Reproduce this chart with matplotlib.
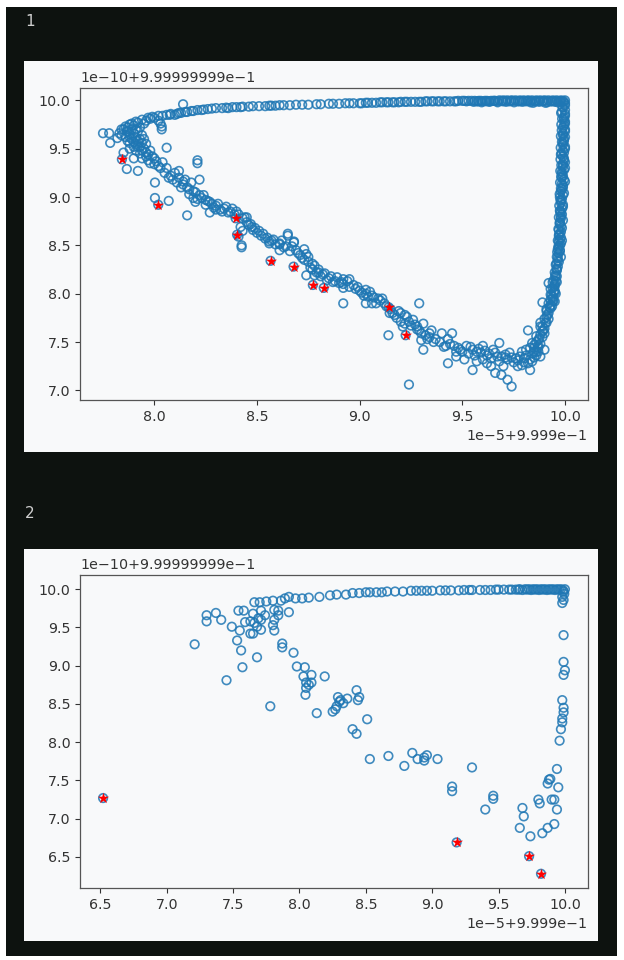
#!/usr/bin/env python3
"""
Two scatter panels (notebook-style dark frame) of near-1.0 score pairs,
with selected points marked by red stars.
"""

import matplotlib
matplotlib.use("Agg")
import matplotlib.pyplot as plt
from matplotlib.patches import Rectangle

W, H = 624, 960
DARK = "#0d120f"
PANEL = "#f8f9fa"
BLUE = "#1f77b4"
TEXT = "#333333"

# values are in the axis offset units:
#   x = 0.9999 + v * 1e-5,   y = 0.999999999 + v * 1e-10
X_OFFSET = "1e\u22125+9.999e\u22121"
Y_OFFSET = "1e\u221210+9.99999999e\u22121"

# ---- panel 1 -------------------------------------------------------------
p1_top_x = [7.88, 7.91, 7.94, 7.97, 7.99, 8.02, 8.06, 8.075, 8.11, 8.13, 8.16, 8.18,
            8.21, 8.24, 8.26, 8.30, 8.33, 8.35, 8.38, 8.40, 8.43, 8.46, 8.51, 8.54,
            8.56, 8.59, 8.63, 8.69, 8.72, 8.79, 8.85, 8.90, 8.93, 8.97, 9.00, 9.03,
            9.06, 9.08, 9.10, 9.13, 9.16, 9.19, 9.22, 9.25, 9.27, 9.30, 9.33, 9.36,
            9.38, 9.41, 9.44, 9.47, 9.50, 9.53, 9.56, 9.59, 9.62, 9.64, 9.66, 9.68,
            9.70, 9.72, 9.74, 9.76, 9.78, 9.80, 9.82, 9.84, 9.86, 9.88, 9.90, 9.92,
            9.94, 9.96, 9.98, 10.0, 8.14]
p1_top_y = [9.75, 9.78, 9.80, 9.82, 9.83, 9.84, 9.85, 9.85, 9.86, 9.87, 9.88, 9.89,
            9.90, 9.905, 9.91, 9.92, 9.92, 9.925, 9.93, 9.93, 9.935, 9.935, 9.94, 9.94,
            9.945, 9.945, 9.95, 9.955, 9.955, 9.96, 9.965, 9.965, 9.97, 9.97, 9.97, 9.975,
            9.975, 9.975, 9.98, 9.98, 9.98, 9.98, 9.985, 9.985, 9.985, 9.985, 9.99, 9.99,
            9.99, 9.99, 9.99, 9.99, 9.995, 9.995, 9.995, 9.995, 9.995, 9.995, 9.995, 10.0,
            10.0, 10.0, 10.0, 10.0, 10.0, 10.0, 10.0, 10.0, 10.0, 10.0, 10.0, 10.0,
            10.0, 10.0, 10.0, 10.0, 9.96]

# extra points along the upper row (dense part)
p1_row_x = [7.96, 7.98, 8.00, 8.02, 8.04, 8.08, 8.10, 8.12, 8.15, 8.19, 8.23, 8.28,
            8.36, 8.42, 8.48, 8.57, 8.61, 8.66, 8.75, 8.81, 8.87, 8.95, 9.01, 9.04,
            9.11, 9.14, 9.17, 9.20, 9.23, 9.29, 9.32, 9.35, 9.39, 9.42, 9.46, 9.48,
            9.51, 9.52, 9.545, 9.57, 9.58, 9.60, 9.61, 9.63, 9.65, 9.67, 9.69, 9.71,
            9.73, 9.75, 9.77, 9.79, 9.81, 9.83, 9.85, 9.87, 9.89, 9.91, 9.93, 9.95,
            9.97, 9.99,
            9.555, 9.577, 9.594, 9.617, 9.633, 9.656, 9.672, 9.697, 9.713, 9.738, 9.752,
            9.779, 9.793, 9.818, 9.832, 9.857, 9.874, 9.896, 9.913, 9.937, 9.952, 9.976,
            9.994, 9.845, 9.905, 9.965]
p1_row_y = [9.79, 9.81, 9.82, 9.79, 9.84, 9.86, 9.85, 9.87, 9.88, 9.89, 9.90, 9.915,
            9.92, 9.93, 9.94, 9.945, 9.95, 9.95, 9.955, 9.96, 9.965, 9.97, 9.97, 9.975,
            9.98, 9.98, 9.98, 9.985, 9.985, 9.985, 9.99, 9.99, 9.99, 9.99, 9.99, 9.995,
            9.995, 9.99, 9.995, 9.99, 9.995, 9.99, 9.995, 9.99, 9.995, 9.99, 9.995, 9.995,
            9.99, 9.995, 9.99, 9.995, 9.99, 9.995, 9.99, 9.995, 9.99, 9.995, 9.99, 9.995,
            9.99, 9.995,
            9.985, 9.99, 9.98, 9.99, 9.985, 9.995, 9.98, 9.99, 9.985, 9.995, 9.98,
            9.99, 9.985, 9.995, 9.98, 9.99, 9.985, 9.995, 9.98, 9.99, 9.985, 9.99,
            9.985, 9.975, 9.975, 9.98]

p1_right_x = [10.0, 10.0, 10.0, 9.995, 10.0, 9.995, 10.0, 9.99, 10.0, 9.995, 9.99, 10.0,
              9.995, 9.99, 9.995, 9.99, 10.0, 9.985, 9.99, 9.995, 9.985, 9.99, 9.98, 9.99,
              9.985, 9.98, 9.99, 9.975, 9.985, 9.98, 9.975, 9.98, 9.97, 9.975, 9.98, 9.97,
              9.975, 9.965, 9.97, 9.96, 9.965, 9.955, 9.96, 9.95, 9.955, 9.945, 9.95, 9.94,
              9.945, 9.935, 9.93, 9.92, 9.925, 9.91, 9.915, 9.90, 9.905, 9.89, 9.895, 9.88,
              9.875, 9.86, 9.87, 9.85, 9.86, 9.84, 9.85, 9.83, 9.82,
              9.985, 9.99, 9.98, 9.985, 9.975, 9.98, 9.97, 9.975, 9.965, 9.96, 9.955, 9.95]
p1_right_y = [9.95, 9.90, 9.86, 9.82, 9.78, 9.74, 9.70, 9.66, 9.62, 9.58, 9.54, 9.50,
              9.46, 9.42, 9.38, 9.34, 9.30, 9.26, 9.22, 9.18, 9.14, 9.10, 9.06, 9.02,
              8.98, 8.94, 8.90, 8.86, 8.82, 8.78, 8.74, 8.70, 8.66, 8.62, 8.58, 8.54,
              8.50, 8.46, 8.42, 8.38, 8.34, 8.30, 8.26, 8.22, 8.18, 8.14, 8.10, 8.06,
              8.02, 7.98, 7.94, 7.90, 7.86, 7.82, 7.78, 7.74, 7.70, 7.66, 7.62, 7.58,
              7.54, 7.50, 7.46, 7.44, 7.40, 7.38, 7.34, 7.32, 7.28,
              9.88, 9.64, 9.44, 9.20, 9.00, 8.80, 8.60, 8.44, 8.28, 8.12, 8.00, 7.92]

# second and third columns of the right edge (solid band in the picture)
p1_edge_x = [10.0, 9.99, 10.0, 9.995, 10.0, 9.99, 10.0, 9.995, 9.99, 10.0, 9.99, 9.995,
             10.0, 9.99, 9.995, 9.985, 10.0, 9.99, 9.985, 9.995, 9.98, 9.99, 9.985, 9.98,
             9.99, 9.975, 9.985, 9.98, 9.975, 9.98, 9.97,
             9.983, 9.987, 9.981, 9.986, 9.982, 9.984, 9.98, 9.985, 9.979, 9.983, 9.978,
             9.982, 9.977, 9.981, 9.976, 9.98, 9.974, 9.978, 9.972, 9.976, 9.97, 9.974,
             9.968, 9.971, 9.965, 9.968, 9.962, 9.965, 9.958, 9.96, 9.952, 9.955, 9.947,
             9.95, 9.942, 9.944, 9.937]
p1_edge_y = [9.97, 9.93, 9.84, 9.80, 9.76, 9.72, 9.68, 9.60, 9.56, 9.52, 9.48, 9.40,
             9.36, 9.32, 9.28, 9.24, 9.16, 9.12, 9.08, 9.04, 8.96, 8.92, 8.88, 8.84,
             8.76, 8.72, 8.68, 8.64, 8.56, 8.52, 8.48,
             9.985, 9.93, 9.87, 9.81, 9.75, 9.69, 9.63, 9.57, 9.51, 9.45, 9.39,
             9.33, 9.27, 9.21, 9.15, 9.09, 9.03, 8.97, 8.91, 8.85, 8.79, 8.73,
             8.67, 8.61, 8.55, 8.49, 8.43, 8.37, 8.31, 8.25, 8.19, 8.13, 8.07,
             8.03, 7.97, 7.93, 7.87]

p1_curve_x = [7.75, 7.78, 7.785, 7.82, 7.84, 7.85, 7.866, 7.87, 7.86, 7.87, 7.88, 7.89,
              7.90, 7.89, 7.90, 7.91, 7.92, 7.91, 7.93, 7.92, 7.94, 7.93, 7.95, 7.94,
              7.96, 7.85, 7.88, 7.90, 7.93, 7.97, 7.98, 7.96, 8.00, 8.02, 8.04, 7.866,
              7.92, 8.036, 8.036, 8.06, 8.003, 8.06, 8.08, 8.10, 8.12, 8.12, 8.14, 8.16,
              8.17, 8.15, 8.18, 8.22, 8.21, 8.003, 8.07, 8.16, 8.19, 8.20, 8.23, 8.20,
              8.24, 8.26, 8.25, 8.28, 8.30, 8.30, 8.27, 8.32, 8.33, 8.35, 8.37, 8.38,
              8.41, 8.44, 8.45, 8.46, 8.42, 8.43, 8.41, 8.425, 8.425, 8.475, 8.50, 8.48,
              8.52, 8.55, 8.56, 8.56, 8.58, 8.61, 8.61, 8.61, 8.64, 8.65, 8.65, 8.68,
              8.68, 8.66, 8.70, 8.73, 8.74, 8.73, 8.75, 8.77, 8.76, 8.74, 8.77, 8.80,
              8.78, 8.79, 8.82, 8.85, 8.89, 8.87, 8.90, 8.92, 8.94, 8.95, 8.92, 8.92,
              8.95, 8.99, 9.00, 9.03, 9.02, 9.03, 9.06, 9.08, 9.07, 9.10, 9.11, 9.06,
              8.92, 9.03, 9.146, 9.16, 9.19, 9.20, 9.22, 9.23, 9.26, 9.25, 9.21, 9.28,
              9.28, 9.30, 9.29, 9.31, 9.33, 9.34, 9.35, 9.36, 9.14, 9.31, 9.24, 9.37,
              9.40, 9.43, 9.45, 9.42, 9.46, 9.49, 9.52, 9.55, 9.51, 9.55, 9.43, 9.59,
              9.60, 9.68, 9.66, 9.69, 9.72, 9.70, 9.73, 9.75, 9.66, 9.69, 9.72, 9.74,
              9.78, 9.80, 9.83, 9.77, 9.81, 9.82, 9.84, 9.87, 9.90, 9.88, 9.90, 9.89,
              9.92, 9.93, 9.95, 9.96, 9.98, 9.985, 9.62, 9.64, 9.57, 9.53, 9.47, 9.62,
              9.76, 9.79, 9.81, 9.83, 9.85, 9.86, 9.88, 9.91, 9.92, 9.94, 9.93, 8.03,
              8.21]
p1_curve_y = [9.66, 9.66, 9.56, 9.61, 9.64, 9.70, 9.68, 9.72, 9.62, 9.58, 9.65, 9.70,
              9.74, 9.60, 9.66, 9.62, 9.68, 9.55, 9.72, 9.58, 9.64, 9.52, 9.60, 9.48,
              9.55, 9.46, 9.50, 9.40, 9.45, 9.38, 9.35, 9.42, 9.40, 9.32, 9.36, 9.29,
              9.27, 9.73, 9.70, 9.51, 9.15, 9.30, 9.22, 9.25, 9.27, 9.20, 9.13, 9.10,
              9.08, 9.18, 9.15, 9.18, 9.35, 8.99, 8.96, 8.81, 8.99, 8.95, 8.99, 9.05,
              9.02, 8.96, 8.92, 8.93, 8.87, 8.91, 8.84, 8.87, 8.85, 8.90, 8.85, 8.88,
              8.82, 8.79, 8.79, 8.71, 8.69, 8.65, 8.59, 8.50, 8.48, 8.69, 8.63, 8.66,
              8.60, 8.58, 8.54, 8.52, 8.56, 8.51, 8.52, 8.45, 8.49, 8.60, 8.62, 8.53,
              8.54, 8.44, 8.42, 8.46, 8.41, 8.35, 8.38, 8.31, 8.27, 8.19, 8.25, 8.25,
              8.19, 8.22, 8.20, 8.16, 8.17, 8.12, 8.11, 8.15, 8.13, 8.15, 8.10, 8.06,
              8.07, 8.07, 8.03, 8.04, 7.98, 8.00, 7.98, 7.90, 7.96, 7.93, 7.95, 7.90,
              7.90, 7.90, 7.80, 7.80, 7.82, 7.80, 7.78, 7.76, 7.73, 7.67, 7.66, 7.66,
              7.63, 7.59, 7.90, 7.69, 7.53, 7.59, 7.62, 7.50, 7.57, 7.42, 7.06, 7.53,
              7.59, 7.53, 7.59, 7.46, 7.46, 7.42, 7.46, 7.42, 7.32, 7.21, 7.28, 7.39,
              7.46, 7.49, 7.39, 7.35, 7.32, 7.25, 7.39, 7.29, 7.18, 7.16, 7.11, 7.04,
              7.35, 7.29, 7.21, 7.25, 7.42, 7.62, 7.49, 7.52, 7.42, 7.66, 7.59, 7.91,
              8.11, 7.85, 8.01, 8.18, 8.38, 8.55, 7.36, 7.33, 7.40, 7.38, 7.40, 7.28,
              7.33, 7.40, 7.36, 7.44, 7.47, 7.56, 7.70, 7.76, 7.80, 7.95, 8.05, 9.76,
              9.38]

# extra points thickening the descending band and the trough
p1_band_x = [7.87, 7.88, 7.89, 7.90, 7.91, 7.92, 7.93, 7.94, 7.95, 7.96, 7.97, 7.98,
             7.99, 8.01, 8.00, 8.03, 7.95, 7.92, 7.86, 7.84, 7.83, 7.88, 7.90, 7.91,
             7.94, 8.05, 8.07, 8.09, 8.11, 8.13, 8.14, 8.17, 8.19, 8.21, 8.22, 8.25,
             8.27, 8.29, 8.31, 8.34, 8.36, 8.39, 8.40, 8.43, 8.45, 8.47, 8.49, 8.51,
             8.53, 8.54, 8.57, 8.59, 8.62, 8.63, 8.67, 8.69, 8.71, 8.72, 8.75, 8.78,
             8.80, 8.81, 8.83, 8.84, 8.86, 8.88, 8.91, 8.97, 8.98, 9.01, 9.04, 9.05,
             9.09, 9.12, 9.13, 9.15, 9.17, 9.18, 9.20, 9.22, 9.24, 9.27, 9.29, 9.32,
             9.34, 9.30, 9.39, 9.41, 9.44, 9.47, 9.48, 9.50, 9.54, 9.56, 9.58, 9.61,
             9.63, 9.65, 9.67, 9.68, 9.71, 9.60, 9.57, 9.64, 9.86, 9.87, 9.88, 9.89,
             9.90, 9.91, 9.92, 9.93, 9.94, 9.95, 9.88, 9.84, 9.80, 9.77, 9.74, 9.71,
             9.79, 9.85, 9.87, 9.89, 9.91, 9.93, 9.94, 9.96, 9.97, 9.975]
p1_band_y = [9.68, 9.62, 9.76, 9.57, 9.70, 9.52, 9.60, 9.56, 9.50, 9.46, 9.44, 9.48,
             9.42, 9.37, 9.34, 9.30, 9.76, 9.77, 9.73, 9.70, 9.66, 9.56, 9.52, 9.48,
             9.40, 9.25, 9.20, 9.18, 9.15, 9.10, 9.16, 9.03, 9.06, 8.98, 9.02, 8.97,
             8.95, 8.89, 8.93, 8.88, 8.84, 8.82, 8.85, 8.78, 8.74, 8.72, 8.68, 8.65,
             8.62, 8.57, 8.55, 8.51, 8.55, 8.48, 8.49, 8.45, 8.40, 8.37, 8.33, 8.29,
             8.22, 8.18, 8.21, 8.14, 8.18, 8.13, 8.12, 8.09, 8.05, 8.01, 7.97, 8.02,
             7.95, 7.90, 7.87, 7.84, 7.78, 7.75, 7.71, 7.69, 7.71, 7.68, 7.62, 7.57,
             7.55, 7.52, 7.50, 7.45, 7.48, 7.35, 7.44, 7.40, 7.45, 7.36, 7.43, 7.41,
             7.38, 7.42, 7.35, 7.30, 7.34, 7.32, 7.30, 7.25, 7.36, 7.40, 7.48, 7.55,
             7.64, 7.70, 7.74, 7.88, 7.92, 8.08, 7.35, 7.30, 7.33, 7.31, 7.34, 7.37,
             7.26, 7.40, 7.44, 7.61, 7.84, 7.99, 8.12, 8.24, 8.33, 8.45]

p1_star_x = [7.842, 8.019, 8.396, 8.403, 8.566, 8.678, 8.772, 8.825, 9.141, 9.224]
p1_star_y = [9.39, 8.92, 8.78, 8.61, 8.34, 8.28, 8.09, 8.06, 7.86, 7.57]

# ---- panel 2 -------------------------------------------------------------
p2_x = [7.21, 7.30, 7.30, 7.37, 7.41, 7.49, 7.45, 7.53, 7.56, 7.57, 7.55, 7.54,
        7.58, 7.59, 7.66, 7.70, 7.75, 7.86, 7.92, 7.97, 8.02, 8.07, 8.15, 8.23,
        8.28, 8.35, 7.65, 7.69, 7.66, 7.63, 7.71, 7.68, 7.65, 7.63, 7.71, 7.68,
        7.71, 7.74, 7.81, 7.84, 7.84, 7.81, 7.80, 7.81, 7.92, 7.87, 7.87, 7.955,
        7.98, 8.04, 8.03, 8.09, 8.19, 8.05, 8.07, 8.09, 8.045, 8.05, 7.78, 8.13,
        8.25, 8.28, 8.30, 8.33, 8.27, 8.29, 8.31, 8.36, 8.43, 8.44, 8.40, 8.43,
        8.45, 8.51, 8.53, 8.67, 8.79, 8.85, 8.89, 8.94, 8.96, 8.94, 9.04, 9.30,
        9.15, 9.15, 9.46, 9.46, 9.40, 9.68, 9.69, 9.66, 9.74, 9.80, 9.81, 9.88,
        9.89, 9.87, 9.92, 9.90, 9.94, 9.95, 9.94, 9.92, 9.87, 9.83, 9.96, 9.97,
        9.98, 9.98, 9.99, 9.99, 9.98, 9.99, 10.0, 9.99, 9.99, 9.98, 9.99, 9.98,
        8.40, 8.45, 8.50, 8.53, 8.58, 8.62, 8.66, 8.72, 8.78, 8.84, 8.88, 8.92,
        8.96, 9.00, 9.06, 9.10, 9.14, 9.20, 9.24, 9.28, 9.30, 9.36, 9.40, 9.44,
        9.48, 9.50, 9.54, 9.58, 9.60, 9.63, 9.66, 9.70, 9.73, 9.76, 9.79, 9.82,
        9.85, 9.88, 9.91, 9.94, 9.97, 10.0, 9.99, 9.995, 7.80, 7.89,
        6.52, 9.184, 9.73, 9.82,
        9.65, 9.68, 9.715, 9.745, 9.775, 9.805, 9.835, 9.865, 9.895, 9.925, 9.955, 9.985]
p2_y = [9.28, 9.66, 9.58, 9.69, 9.60, 9.51, 8.81, 9.33, 9.20, 8.98, 9.46, 9.72,
        9.72, 9.57, 9.83, 9.83, 9.84, 9.85, 9.90, 9.88, 9.88, 9.89, 9.90, 9.92,
        9.93, 9.93, 9.68, 9.62, 9.56, 9.58, 9.60, 9.51, 9.42, 9.42, 9.47, 9.11,
        9.72, 9.66, 9.73, 9.66, 9.72, 9.60, 9.53, 9.46, 9.70, 9.29, 9.24, 9.17,
        8.99, 8.98, 8.86, 8.88, 8.86, 8.78, 8.75, 8.78, 8.62, 8.71, 8.47, 8.38,
        8.40, 8.47, 8.53, 8.51, 8.43, 8.59, 8.55, 8.57, 8.68, 8.55, 8.17, 8.11,
        8.59, 8.30, 7.78, 7.82, 7.69, 7.86, 7.78, 7.80, 7.83, 7.76, 7.78, 7.67,
        7.42, 7.36, 7.30, 7.26, 7.12, 7.14, 7.03, 6.88, 6.77, 7.25, 7.20, 7.51,
        7.52, 7.46, 7.25, 7.25, 7.65, 7.41, 7.12, 6.93, 6.88, 6.81, 8.02, 8.17,
        8.26, 8.31, 8.39, 8.45, 8.55, 8.88, 8.94, 9.05, 9.40, 9.82, 9.86, 9.90,
        9.95, 9.95, 9.96, 9.96, 9.96, 9.96, 9.97, 9.97, 9.97, 9.98, 9.98, 9.98,
        9.98, 9.98, 9.985, 9.985, 9.985, 9.985, 9.99, 9.99, 9.99, 9.99, 9.99, 9.99,
        9.995, 9.995, 9.995, 9.995, 9.995, 9.995, 10.0, 10.0, 10.0, 10.0, 10.0, 10.0,
        10.0, 10.0, 10.0, 10.0, 10.0, 10.0, 9.97, 9.94, 9.85, 9.88,
        7.27, 6.69, 6.51, 6.28,
        9.995, 9.99, 9.995, 9.99, 9.995, 9.99, 9.995, 9.99, 9.995, 9.99, 9.995, 9.99]

p2_star_x = [6.52, 9.184, 9.73, 9.82]
p2_star_y = [7.27, 6.69, 6.51, 6.28]

panels = [
    {"label": "1", "label_y": 22, "box": (24, 61, 598, 452), "axes": (80, 88, 588, 400),
     "x": p1_top_x + p1_row_x + p1_right_x + p1_edge_x + p1_curve_x + p1_band_x + p1_star_x,
     "y": p1_top_y + p1_row_y + p1_right_y + p1_edge_y + p1_curve_y + p1_band_y + p1_star_y,
     "sx": p1_star_x, "sy": p1_star_y,
     "xticks": [8.0, 8.5, 9.0, 9.5, 10.0], "yticks": [7.0, 7.5, 8.0, 8.5, 9.0, 9.5, 10.0],
     "xlim": (7.638, 10.112), "ylim": (6.90, 10.128)},
    {"label": "2", "label_y": 513, "box": (24, 549, 598, 941), "axes": (80, 575, 588, 888),
     "x": p2_x, "y": p2_y, "sx": p2_star_x, "sy": p2_star_y,
     "xticks": [6.5, 7.0, 7.5, 8.0, 8.5, 9.0, 9.5, 10.0],
     "yticks": [6.5, 7.0, 7.5, 8.0, 8.5, 9.0, 9.5, 10.0],
     "xlim": (6.346, 10.174), "ylim": (6.094, 10.186)},
]


def frac(x0, y0, x1, y1):
    return [x0 / W, 1 - y1 / H, (x1 - x0) / W, (y1 - y0) / H]


fig = plt.figure(figsize=(W / 100, H / 100), dpi=100, facecolor="white")
l, b, w, h = frac(6, 7, 617, 956)
fig.patches.append(Rectangle((l, b), w, h, transform=fig.transFigure,
                             facecolor=DARK, edgecolor="none", zorder=-3))

for p in panels:
    l, b, w, h = frac(*p["box"])
    fig.patches.append(Rectangle((l, b), w, h, transform=fig.transFigure,
                                 facecolor=PANEL, edgecolor="none", zorder=-2))
    fig.text(30 / W, 1 - p["label_y"] / H, p["label"], color="#cfcfcf",
             fontsize=11, ha="center", va="center")

    ax = fig.add_axes(frac(*p["axes"]))
    ax.set_facecolor(PANEL)
    ax.scatter(p["x"], p["y"], s=38, facecolors="none", edgecolors=BLUE,
               linewidths=1.2, alpha=0.85)
    ax.scatter(p["sx"], p["sy"], s=70, marker="*", color="red", linewidths=0, zorder=3)

    ax.set_xlim(*p["xlim"])
    ax.set_ylim(*p["ylim"])
    ax.set_xticks(p["xticks"])
    ax.set_yticks(p["yticks"])
    ax.set_xticklabels([f"{v:.1f}" for v in p["xticks"]])
    ax.set_yticklabels([f"{v:.1f}" for v in p["yticks"]])
    ax.tick_params(labelsize=10.3, colors=TEXT, length=3.5, width=0.8)
    for s in ax.spines.values():
        s.set_color("#555555")
        s.set_linewidth(0.9)

    ax_h = p["axes"][3] - p["axes"][1]
    ax.text(0, 1 + 3 / ax_h, Y_OFFSET, transform=ax.transAxes, ha="left",
            va="bottom", fontsize=10.3, color=TEXT)
    ax.text(1, -29 / ax_h, X_OFFSET, transform=ax.transAxes, ha="right",
            va="top", fontsize=10.3, color=TEXT)

fig.savefig("out.png", dpi=100, facecolor="white")
